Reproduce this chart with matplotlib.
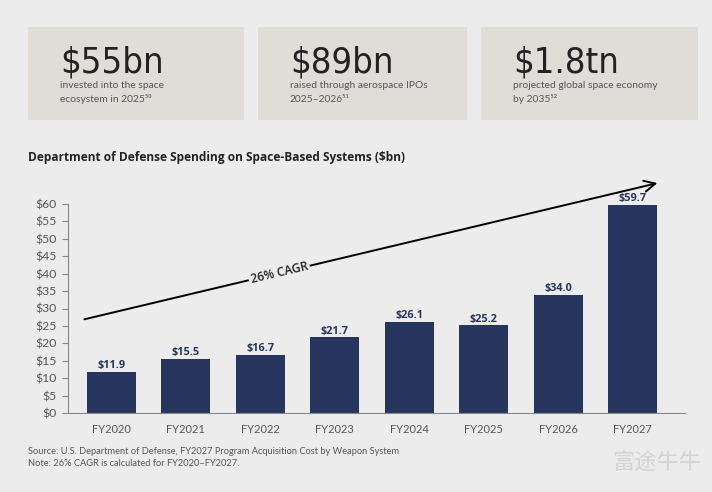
import matplotlib.pyplot as plt
from matplotlib.patches import Rectangle
from matplotlib import font_manager

# -------------------------------
# DATA
# -------------------------------
years = ["FY2020", "FY2021", "FY2022", "FY2023", "FY2024", "FY2025", "FY2026", "FY2027"]
spend = [11.9, 15.5, 16.7, 21.7, 26.1, 25.2, 34.0, 59.7]
y_ticks = [0, 5, 10, 15, 20, 25, 30, 35, 40, 45, 50, 55, 60]

stat_values = ["$55bn", "$89bn", "$1.8tn"]
stat_lines = [
    ["invested into the space", "ecosystem in 2025\u2075\u2070"],
    ["raised through aerospace IPOs", "2025\u20132026\u2075\u00b9"],
    ["projected global space economy", "by 2035\u2075\u00b2"],
]

title = "Department of Defense Spending on Space-Based Systems ($bn)"
cagr_label = "26% CAGR"
source_lines = [
    "Source: U.S. Department of Defense, FY2027 Program Acquisition Cost by Weapon System",
    "Note: 26% CAGR is calculated for FY2020\u2013FY2027.",
]

# -------------------------------
# STYLE
# -------------------------------
BG = "#ececec"
BOX = "#e0dcd7"
NAVY = "#27355f"
GREY = "#555555"
DARK = "#222222"

# look for a narrow face for the big numbers
narrow = None
for f in font_manager.fontManager.ttflist:
    n = (f.name + " " + f.fname).lower()
    if ("narrow" in n or "condensed" in n) and "bold" not in n and "oblique" not in n \
            and "italic" not in n:
        narrow = f.fname
        break
if narrow:
    big_prop = font_manager.FontProperties(fname=narrow, size=26)
else:
    big_prop = font_manager.FontProperties(family="Lato", weight="light", size=25)

body = ["Lato", "DejaVu Sans"]

W, H = 712, 492
fig = plt.figure(figsize=(W / 100, H / 100), dpi=100)
fig.patch.set_facecolor(BG)

def fx(px):
    return px / W

def fy(py):
    return 1 - py / H

# -------------------------------
# STAT BOXES
# -------------------------------
boxes = [(28, 244), (258, 467), (481, 698)]
for (x0, x1), val, lines in zip(boxes, stat_values, stat_lines):
    fig.patches.append(Rectangle((fx(x0), fy(120)), fx(x1 - x0), (120 - 27) / H,
                                 transform=fig.transFigure, facecolor=BOX,
                                 edgecolor="none", zorder=0))
    fig.text(fx(x0 + 32), fy(72), val, fontproperties=big_prop,
             color=DARK, ha="left", va="baseline")
    fig.text(fx(x0 + 32), fy(88), lines[0], fontsize=7.4, family=body,
             color=GREY, ha="left", va="baseline")
    fig.text(fx(x0 + 32), fy(102), lines[1], fontsize=7.4, family=body,
             color=GREY, ha="left", va="baseline")

# -------------------------------
# CHART
# -------------------------------
fig.text(fx(28), fy(158), title, fontsize=8.6, fontweight="bold",
         family=["Open Sans", "DejaVu Sans"], color=DARK, ha="left", va="center")

ax = fig.add_axes([fx(68), fy(413), fx(685 - 68), (413 - 204) / H])
ax.set_facecolor(BG)

x = list(range(len(years)))
bars = ax.bar(x, spend, width=0.66, color=NAVY, zorder=2)
for xi, v in zip(x, spend):
    ax.text(xi, v + 0.2, f"${v:.1f}", ha="center", va="bottom", fontsize=7.8,
            fontweight="bold", color=NAVY, family=["Open Sans", "DejaVu Sans"])

ax.set_xlim(-0.58, 7.70)
ax.set_ylim(0, 60)
ax.set_yticks(y_ticks)
ax.set_yticklabels([f"${t}" for t in y_ticks])
ax.set_xticks(x)
ax.set_xticklabels(years)

for lab in ax.get_yticklabels():
    lab.set_family(body)
    lab.set_fontsize(8.8)
    lab.set_color(GREY)
for lab in ax.get_xticklabels():
    lab.set_family(body)
    lab.set_fontsize(8)
    lab.set_color(GREY)

ax.tick_params(axis="x", length=0, pad=8)
ax.tick_params(axis="y", length=4, width=0.8, color="#888888", pad=4)
for s in ["top", "right"]:
    ax.spines[s].set_visible(False)
ax.spines["left"].set_color("#888888")
ax.spines["bottom"].set_color("#888888")
ax.spines["left"].set_linewidth(0.8)
ax.spines["bottom"].set_linewidth(0.8)

# CAGR arrow
start = (-0.36, 26.9)
end = (7.33, 66.0)
ax.annotate("", xy=end, xytext=start, annotation_clip=False,
            arrowprops=dict(arrowstyle="->,head_length=0.8,head_width=0.4",
                            color="black", lw=1.4, shrinkA=0, shrinkB=0))
t = 0.34
tx = start[0] + t * (end[0] - start[0])
ty = start[1] + t * (end[1] - start[1])
ax.text(tx, ty, cagr_label, rotation=13.3, rotation_mode="anchor",
        ha="center", va="center", fontsize=8.6, fontweight="semibold", color=DARK,
        family=["Open Sans", "DejaVu Sans"],
        bbox=dict(facecolor=BG, edgecolor="none", pad=1.5), zorder=5)

# -------------------------------
# FOOTNOTES
# -------------------------------
fig.text(fx(28), fy(452), source_lines[0], fontsize=6.7, family=body, color=GREY,
         ha="left", va="center")
fig.text(fx(28), fy(464), source_lines[1], fontsize=6.7, family=body, color=GREY,
         ha="left", va="center")

# watermark
fig.text(fx(612), fy(462), "富途牛牛", fontsize=16, family=["Noto Sans CJK SC"],
         color="#d4d4d4", ha="left", va="center")

fig.savefig("out.png", dpi=100, facecolor=BG)
